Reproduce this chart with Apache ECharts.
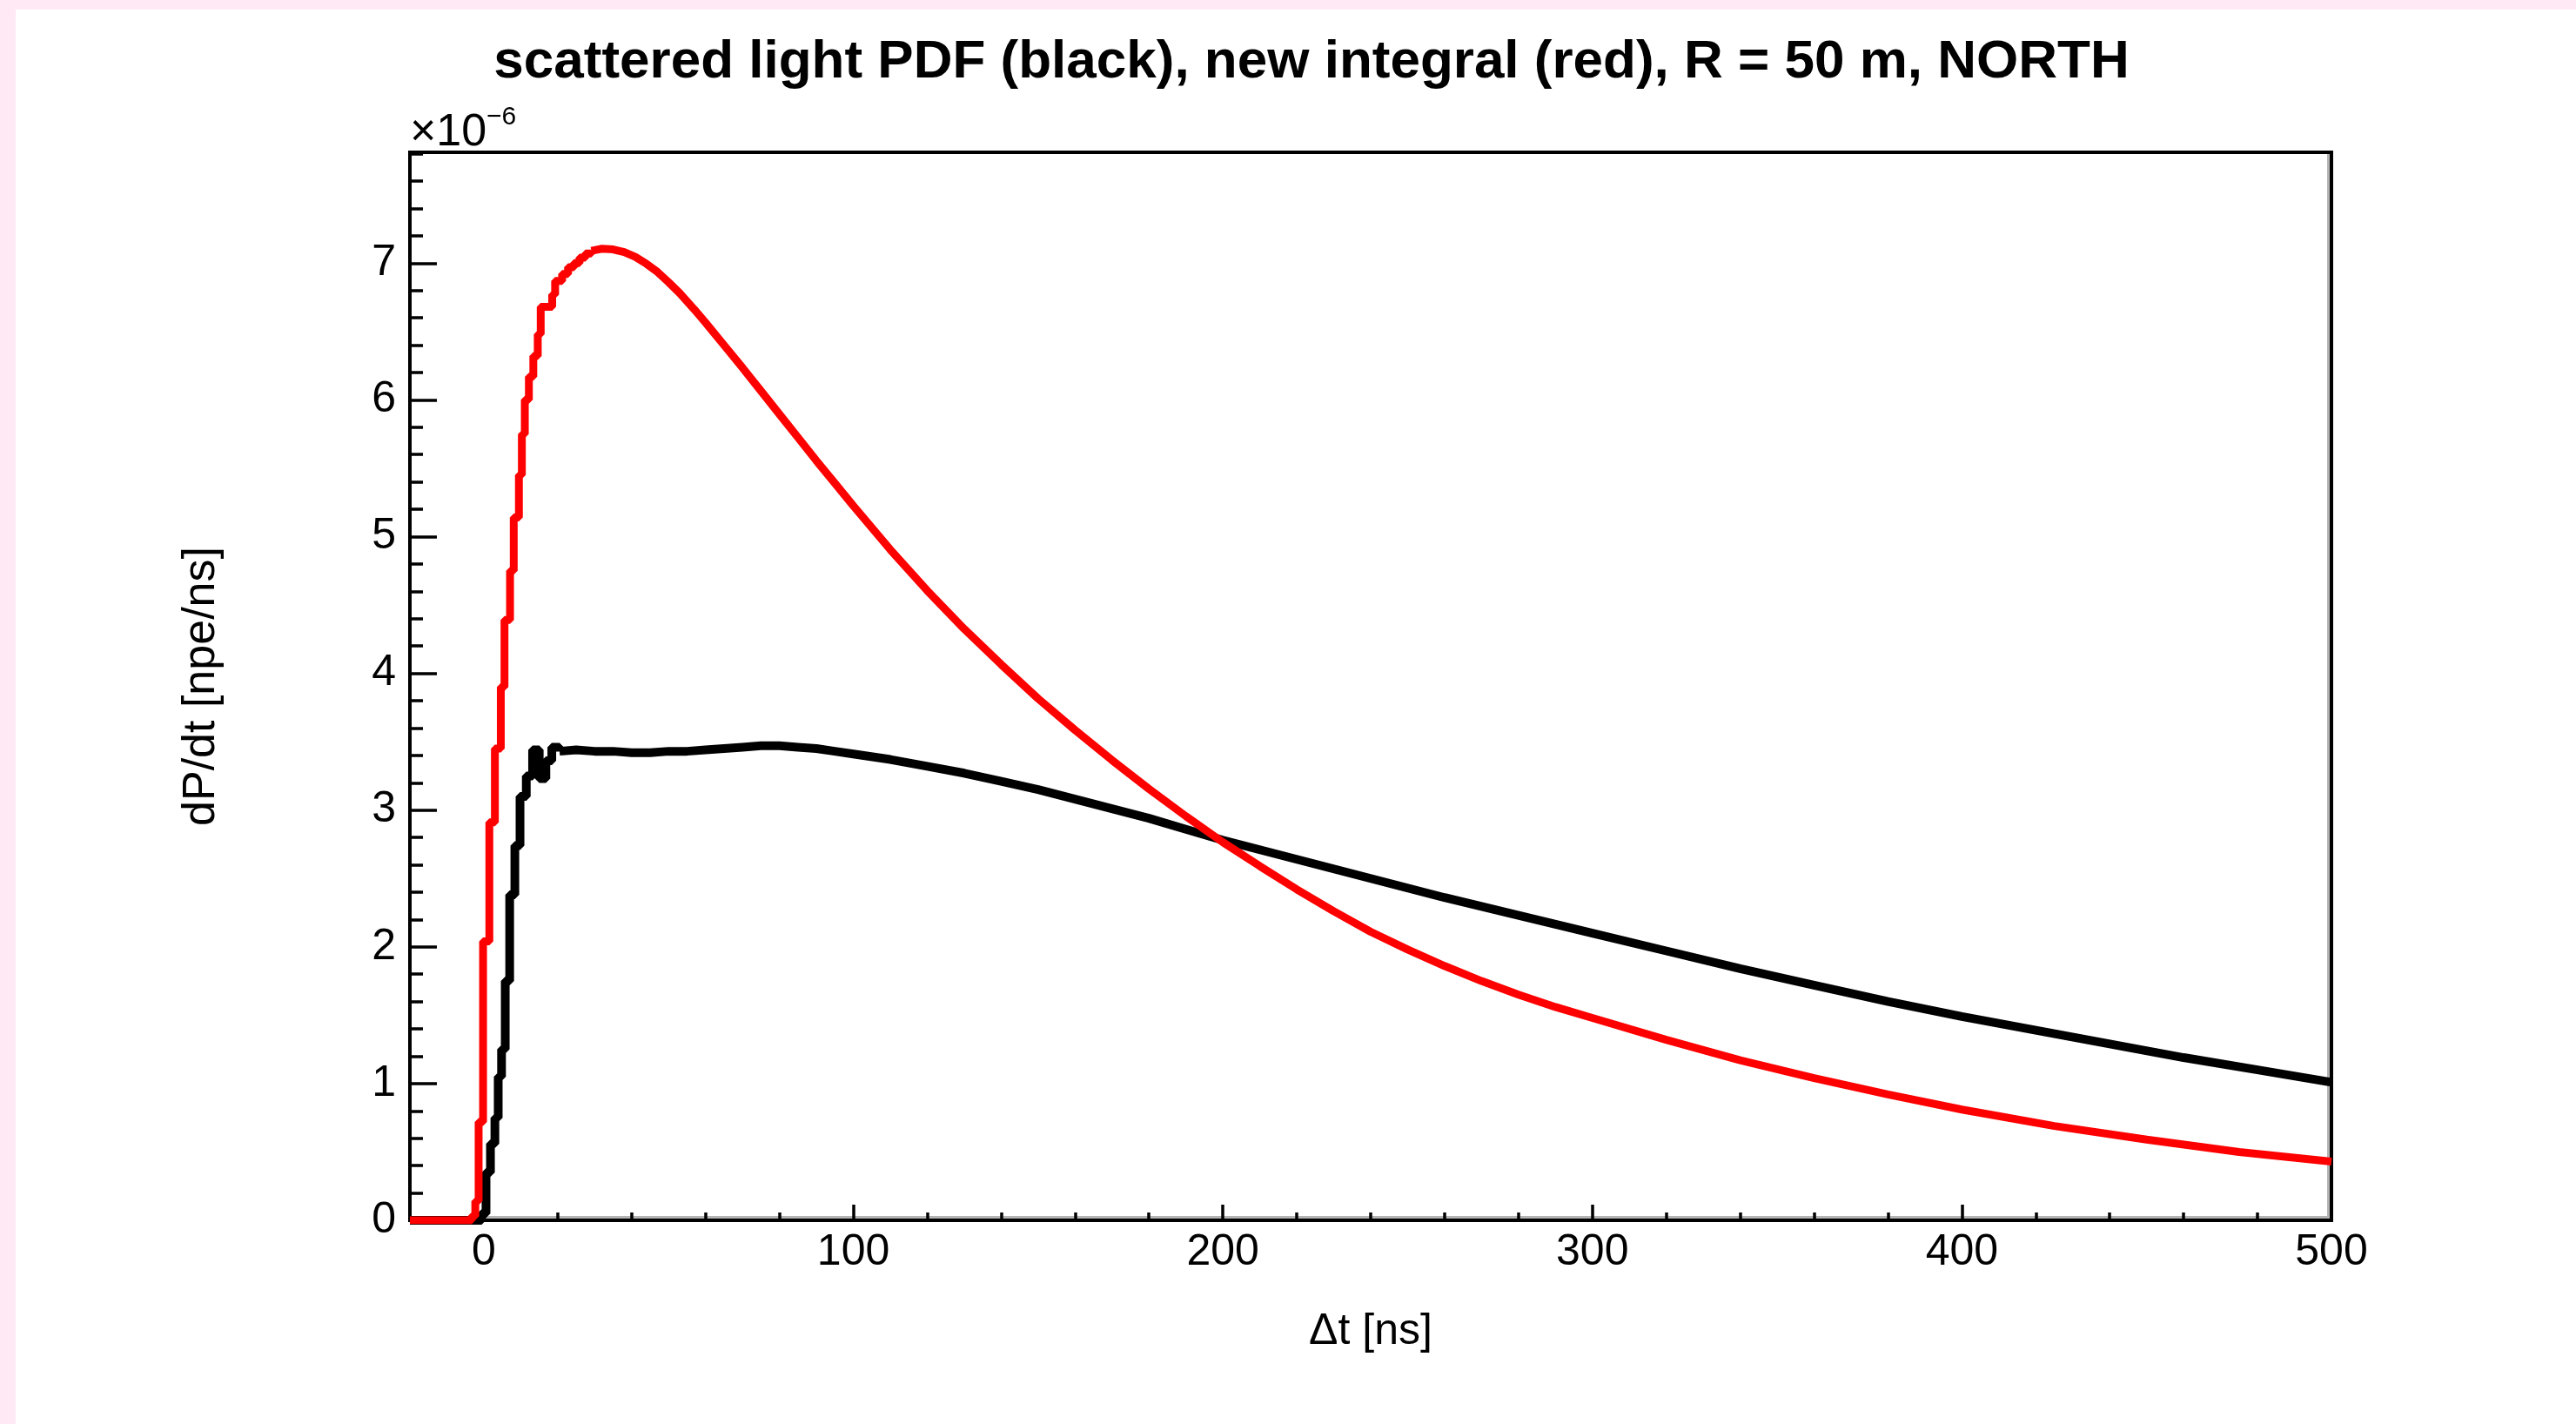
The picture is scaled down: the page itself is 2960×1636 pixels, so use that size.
<!DOCTYPE html>
<html>
<head>
<meta charset="utf-8">
<script src="https://cdn.jsdelivr.net/npm/echarts@6/dist/echarts.min.js"></script>
<style>
html,body{margin:0;padding:0;background:#ffe9f5;width:2960px;height:1636px;overflow:hidden}
#chart{position:absolute;left:18px;top:11px;width:2942px;height:1625px;background:#ffffff}
</style>
</head>
<body>
<div id="chart"></div>
<script>
// ---- tick values ----
const xMajorTicks = [0, 100, 200, 300, 400, 500];
const xMinorTicks = [-20, 0, 20, 40, 60, 80, 100, 120, 140, 160, 180, 200, 220, 240, 260, 280, 300,
  320, 340, 360, 380, 400, 420, 440, 460, 480, 500];
const yMajorTicks = [0, 1, 2, 3, 4, 5, 6, 7];
const yMinorTicks = [0, 0.2, 0.4, 0.6, 0.8, 1, 1.2, 1.4, 1.6, 1.8, 2, 2.2, 2.4, 2.6, 2.8, 3, 3.2, 3.4, 3.6, 3.8,
  4, 4.2, 4.4, 4.6, 4.8, 5, 5.2, 5.4, 5.6, 5.8, 6, 6.2, 6.4, 6.6, 6.8, 7, 7.2, 7.4, 7.6, 7.8];

// ---- black: scattered light PDF (units of 1e-6 npe/ns) ----
const blackRiseT = [-20, -0.6, 0.6, 1.8, 3.0, 3.9, 4.8, 5.8, 7.0, 8.4, 9.8, 11.5, 13.2, 15.0, 16.8, 18.4, 20.5];
const blackRiseV = [0, 0.05, 0.35, 0.56, 0.75, 1.05, 1.25, 1.75, 2.38, 2.74, 3.10, 3.25, 3.44, 3.23, 3.36, 3.46, 3.43];
const blackTailT = [20.5, 25, 30, 35, 40, 45, 50, 55, 60, 65, 70, 75, 80, 85, 90, 95, 100, 110, 120, 130, 140, 150,
  160, 170, 180, 190, 200, 220, 240, 260, 280, 300, 320, 340, 360, 380, 400, 420, 440, 460, 480, 500];
const blackTailV = [3.43, 3.44, 3.43, 3.43, 3.42, 3.42, 3.43, 3.43, 3.44, 3.45, 3.46, 3.47, 3.47, 3.46, 3.45, 3.43,
  3.41, 3.37, 3.32, 3.27, 3.21, 3.15, 3.08, 3.01, 2.94, 2.86, 2.78, 2.64, 2.50, 2.36, 2.23, 2.10, 1.97, 1.84,
  1.72, 1.60, 1.49, 1.39, 1.29, 1.19, 1.10, 1.01];

// ---- red: new integral ----
const redRiseT = [-20, -3.3, -2.3, -1.4, -0.2, 1.5, 3.0, 4.6, 5.6, 7.1, 8.1, 9.5, 10.3, 11.1, 12.2, 13.4, 14.6,
  15.4, 18.5, 19.3, 21.2, 22.8, 24.4, 25.9, 27.5, 29.1];
const redRiseV = [0, 0.03, 0.14, 0.72, 2.04, 2.91, 3.45, 3.90, 4.39, 4.75, 5.14, 5.45, 5.75, 6.00, 6.17, 6.32, 6.48,
  6.68, 6.77, 6.87, 6.92, 6.97, 7.00, 7.04, 7.07, 7.09];
const redTailT = [29.1, 32, 35, 38, 41, 44, 47, 50, 53, 57, 60, 65, 70, 75, 80, 85, 90, 95, 100, 110, 120, 130, 140,
  150, 160, 170, 180, 190, 200, 210, 220, 230, 240, 250, 260, 270, 280, 290, 300, 320, 340, 360, 380, 400, 425,
  450, 475, 500];
const redTailV = [7.09, 7.105, 7.10, 7.08, 7.045, 6.995, 6.935, 6.86, 6.78, 6.66, 6.565, 6.40, 6.235, 6.065, 5.895,
  5.725, 5.555, 5.39, 5.225, 4.905, 4.605, 4.325, 4.065, 3.815, 3.585, 3.365, 3.155, 2.955, 2.765, 2.59, 2.42,
  2.26, 2.11, 1.98, 1.86, 1.75, 1.65, 1.56, 1.48, 1.32, 1.17, 1.04, 0.92, 0.81, 0.69, 0.59, 0.50, 0.43];

const titleText = 'scattered light PDF (black), new integral (red), R = 50 m, NORTH';
const xName = 'Δt [ns]';
const yName = 'dP/dt [npe/ns]';

// ---- layout ----
const FONT = '"Liberation Sans", Arial, Helvetica, sans-serif';
const W = 2942, H = 1625;
const G = { left: 453, top: 164, right: 281, bottom: 234 };
const plotRight = W - G.right, plotBottom = H - G.bottom;

function zip(a, b) { return a.map((t, i) => [t, b[i]]); }

const tickStyle = { color: '#000', width: 3.5 };
const labelStyle = { color: '#000', fontSize: 50, fontFamily: FONT };

const chart = echarts.init(document.getElementById('chart'), null, { renderer: 'canvas', width: W, height: H });
chart.setOption({
  animation: false,
  backgroundColor: '#ffffff',
  grid: {
    left: G.left, top: G.top, right: G.right, bottom: G.bottom,
    show: true, borderColor: '#000', borderWidth: 4, backgroundColor: 'transparent',
    containLabel: false, outerBoundsMode: 'none'
  },
  xAxis: [
    {
      type: 'value', min: -20, max: 500, position: 'bottom',
      axisLine: { show: true, onZero: false, lineStyle: { color: '#000', width: 4 } },
      axisTick: { show: true, inside: true, length: 18, lineStyle: tickStyle, customValues: xMajorTicks },
      axisLabel: Object.assign({ show: true, margin: 12, customValues: xMajorTicks }, labelStyle),
      splitLine: { show: false },
      name: xName, nameLocation: 'middle', nameGap: 103,
      nameTextStyle: { color: '#000', fontSize: 50, fontFamily: FONT, verticalAlign: 'top' }
    },
    {
      type: 'value', min: -20, max: 500, position: 'bottom',
      axisLine: { show: false, onZero: false },
      axisTick: { show: true, inside: true, length: 9, lineStyle: tickStyle, customValues: xMinorTicks },
      axisLabel: { show: false },
      splitLine: { show: false }
    }
  ],
  yAxis: [
    {
      type: 'value', min: 0, max: 7.81, position: 'left',
      axisLine: { show: true, onZero: false, lineStyle: { color: '#000', width: 4 } },
      axisTick: { show: true, inside: true, length: 31, lineStyle: tickStyle, customValues: yMajorTicks },
      axisLabel: Object.assign({ show: true, margin: 16, customValues: yMajorTicks }, labelStyle),
      splitLine: { show: false },
      name: yName, nameLocation: 'middle', nameGap: 213, nameRotate: 90,
      nameTextStyle: { color: '#000', fontSize: 52, fontFamily: FONT }
    },
    {
      type: 'value', min: 0, max: 7.81, position: 'left',
      axisLine: { show: false, onZero: false },
      axisTick: { show: true, inside: true, length: 15, lineStyle: tickStyle, customValues: yMinorTicks },
      axisLabel: { show: false },
      splitLine: { show: false }
    }
  ],
  graphic: [
    { type: 'rect', z: 0, silent: true,
      shape: { x: plotRight - 2 - 3, y: G.top + 2, width: 3, height: plotBottom - G.top - 4 },
      style: { fill: '#b4b4b4' } },
    { type: 'rect', z: 0, silent: true,
      shape: { x: G.left + 2, y: plotBottom - 2 - 3, width: plotRight - G.left - 4, height: 3 },
      style: { fill: '#b4b4b4' } },
    { type: 'text', x: 1489, y: 61, silent: true,
      style: { text: titleText, font: 'bold 62px ' + FONT, fill: '#000',
        textAlign: 'center', textVerticalAlign: 'middle', align: 'center', verticalAlign: 'middle' } },
    { type: 'text', x: G.left, y: 141.5, silent: true,
      style: { text: '×10', font: '52px ' + FONT, fill: '#000',
        textAlign: 'left', textVerticalAlign: 'middle', align: 'left', verticalAlign: 'middle' } },
    { type: 'text', x: G.left + 88, y: 123.3, silent: true,
      style: { text: '−6', font: '30px ' + FONT, fill: '#000',
        textAlign: 'left', textVerticalAlign: 'middle', align: 'left', verticalAlign: 'middle' } }
  ],
  series: [
    { type: 'line', name: 'pdf rise', xAxisIndex: 0, yAxisIndex: 0, data: zip(blackRiseT, blackRiseV),
      step: 'end', symbol: 'none', silent: true, z: 3,
      lineStyle: { color: '#000', width: 10 }, itemStyle: { color: '#000' } },
    { type: 'line', name: 'pdf tail', xAxisIndex: 0, yAxisIndex: 0, data: zip(blackTailT, blackTailV),
      symbol: 'none', silent: true, z: 3,
      lineStyle: { color: '#000', width: 10 }, itemStyle: { color: '#000' } },
    { type: 'line', name: 'integral rise', xAxisIndex: 0, yAxisIndex: 0, data: zip(redRiseT, redRiseV),
      step: 'end', symbol: 'none', silent: true, z: 4,
      lineStyle: { color: '#ff0000', width: 9 }, itemStyle: { color: '#ff0000' } },
    { type: 'line', name: 'integral tail', xAxisIndex: 0, yAxisIndex: 0, data: zip(redTailT, redTailV),
      symbol: 'none', silent: true, z: 4,
      lineStyle: { color: '#ff0000', width: 9 }, itemStyle: { color: '#ff0000' } }
  ]
});
</script>
</body>
</html>
